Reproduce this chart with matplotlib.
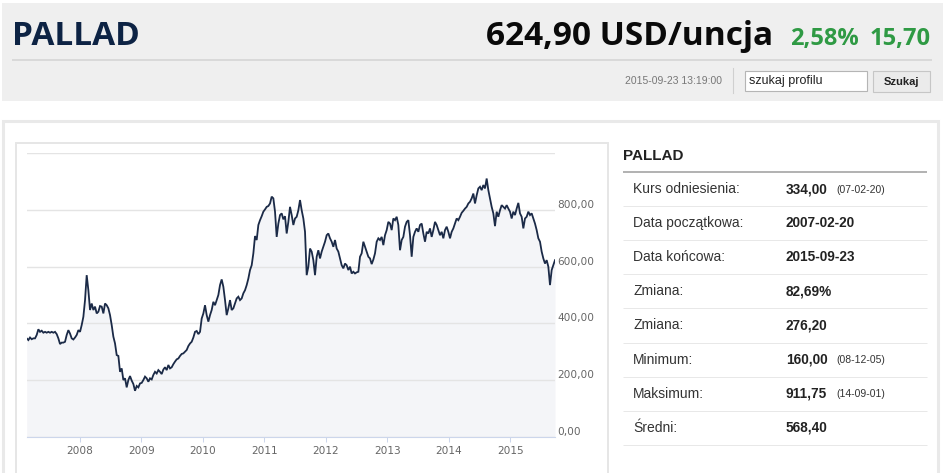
import matplotlib
matplotlib.use("Agg")
import matplotlib.pyplot as plt
import matplotlib.dates as mdates
from matplotlib.patches import Rectangle
import pandas as pd

# ---------------- data ----------------
start_date = "2007-02-20"
end_date = "2015-09-23"
price = [
    347, 341, 350, 344, 347, 347, 359, 379, 370, 374,
    367, 370, 367, 370, 367, 370, 367, 370, 362, 347,
    327, 332, 332, 335, 359, 376, 364, 347, 343, 350,
    359, 376, 370, 394, 423, 482, 570, 517, 447, 470,
    447, 459, 435, 441, 461, 459, 435, 470, 464, 453,
    429, 394, 353, 329, 288, 285, 229, 241, 200, 206,
    174, 200, 214, 198, 186, 162, 179, 174, 188, 190,
    200, 212, 206, 194, 206, 202, 218, 229, 223, 235,
    229, 221, 237, 245, 235, 253, 241, 245, 256, 265,
    273, 276, 285, 292, 294, 300, 306, 320, 329, 335,
    350, 370, 373, 362, 370, 417, 435, 464, 429, 406,
    429, 447, 476, 464, 482, 500, 535, 555, 529, 482,
    429, 453, 482, 447, 453, 470, 488, 494, 482, 488,
    506, 517, 535, 558, 588, 605, 647, 708, 694, 747,
    764, 778, 794, 802, 811, 814, 823, 847, 841, 794,
    705, 752, 782, 788, 767, 778, 717, 758, 811, 782,
    747, 770, 776, 799, 835, 799, 770, 723, 570, 600,
    664, 653, 623, 570, 635, 658, 629, 653, 670, 688,
    711, 717, 700, 688, 670, 694, 664, 653, 629, 605,
    594, 611, 605, 588, 600, 576, 582, 576, 580, 582,
    635, 647, 688, 670, 653, 635, 629, 609, 625, 647,
    688, 700, 694, 705, 676, 711, 729, 758, 752, 729,
    770, 764, 776, 747, 658, 694, 705, 741, 758, 764,
    711, 635, 705, 723, 735, 723, 747, 752, 717, 688,
    723, 717, 735, 705, 729, 758, 747, 729, 711, 723,
    700, 729, 741, 723, 700, 723, 735, 752, 770, 764,
    776, 790, 797, 805, 811, 823, 829, 841, 858, 823,
    852, 876, 882, 870, 888, 876, 911, 870, 841, 811,
    788, 743, 794, 776, 799, 817, 811, 805, 817, 805,
    794, 770, 794, 782, 805, 825, 788, 776, 735, 770,
    776, 794, 782, 788, 770, 752, 729, 700, 688, 653,
    629, 611, 623, 600, 535, 588, 605, 623,
]
y_ticks = [0, 200, 400, 600, 800, 1000]
y_tick_labels = ["0,00", "200,00", "400,00", "600,00", "800,00", ""]

title = "PALLAD"
quote = "624,90 USD/uncja"
change_pct = "2,58%"
change_abs = "15,70"
timestamp = "2015-09-23 13:19:00"

table_labels = ["Kurs odniesienia:", "Data początkowa:", "Data końcowa:", "Zmiana:",
                "Zmiana:", "Minimum:", "Maksimum:", "Średni:"]
table_values = ["334,00", "2007-02-20", "2015-09-23", "82,69%",
                "276,20", "160,00", "911,75", "568,40"]
table_notes = ["(07-02-20)", "", "", "", "", "(08-12-05)", "(14-09-01)", ""]

# ---------------- figure ----------------
W, H = 945, 473
fig = plt.figure(figsize=(W / 100, H / 100), dpi=100)
fig.patch.set_facecolor("white")

bg = fig.add_axes([0, 0, 1, 1], zorder=0)
bg.set_xlim(0, W)
bg.set_ylim(H, 0)
bg.axis("off")


def rect(x0, y0, x1, y1, fc, ec="none", lw=0.0, z=1):
    bg.add_patch(Rectangle((x0, y0), x1 - x0, y1 - y0, facecolor=fc,
                           edgecolor=ec, linewidth=lw, zorder=z))


def hline(y, x0, x1, color, lw_px, z=2):
    bg.plot([x0, x1], [y, y], color=color, lw=lw_px * 0.72,
            solid_capstyle="butt", zorder=z)


HEAD = ["Open Sans", "DejaVu Sans"]
ARIAL = ["Liberation Sans", "DejaVu Sans"]

# header bar
rect(2, 3, 943, 101, "#efefef")
hline(60, 12, 932, "#d9d9d9", 2)
bg.text(12, 45, title, fontsize=24, fontweight="bold", family=HEAD,
        color="#0d2344", ha="left", va="baseline", zorder=3)
bg.text(773, 45, quote, fontsize=24, fontweight="bold", family=HEAD,
        color="#0a0a0a", ha="right", va="baseline", zorder=3)
bg.text(790, 45, change_pct, fontsize=17, fontweight="bold", family=HEAD,
        color="#2f9a44", ha="left", va="baseline", zorder=3)
bg.text(931, 45, change_abs, fontsize=17, fontweight="bold", family=HEAD,
        color="#2f9a44", ha="right", va="baseline", zorder=3)

bg.text(722, 81, timestamp, fontsize=7.5, family=ARIAL, color="#777777",
        ha="right", va="center", zorder=3)
bg.plot([733, 733], [68, 93], color="#d0d0d0", lw=0.8, zorder=2)
rect(745, 71, 867, 91, "white", ec="#b5b5b5", lw=0.8, z=2)
bg.text(749, 81, "szukaj profilu", fontsize=9, family=ARIAL, color="#222222",
        ha="left", va="center", zorder=3)
rect(873, 71, 930, 92, "#ebebeb", ec="#c6c6c6", lw=0.8, z=2)
bg.text(901.5, 82, "Szukaj", fontsize=8, fontweight="bold", family=ARIAL,
        color="#222222", ha="center", va="center", zorder=3)

# main panel and chart container
rect(3, 121, 938, 520, "white", ec="#e9e9e9", lw=2.2, z=1)
rect(16, 143, 608, 520, "white", ec="#e6e6e6", lw=1.4, z=1.5)

# side table
bg.text(623, 156, title, fontsize=11, fontweight="bold", family=ARIAL,
        color="#222222", ha="left", va="center", zorder=3)
hline(172, 623, 927, "#9a9a9a", 1.5)
row_top, row_h = 172, 34.1
for i, (lab, val, note) in enumerate(zip(table_labels, table_values, table_notes)):
    yc = row_top + row_h * (i + 0.5)
    bg.text(633, yc, lab, fontsize=10, family=ARIAL, color="#333333",
            ha="left", va="center", zorder=3)
    bg.text(786, yc, val, fontsize=9.8, fontweight="bold", family=ARIAL,
            color="#222222", ha="left", va="center", zorder=3)
    if note:
        bg.text(836, yc + 0.5, note, fontsize=7.5, family=ARIAL, color="#333333",
                ha="left", va="center", zorder=3)
    hline(row_top + row_h * (i + 1), 623, 927, "#e8e8e8", 1)

# ---------------- chart ----------------
dates = pd.date_range(start_date, end_date, periods=len(price))
x0, x1, ytop, ybot = 26.7, 555.0, 153.3, 436.7
ax = fig.add_axes([x0 / W, 1 - ybot / H, (x1 - x0) / W, (ybot - ytop) / H], zorder=2)
ax.set_facecolor("none")
ax.fill_between(dates, price, 0, color="#f4f5f8", lw=0, zorder=1)
ax.plot(dates, price, color="#1b2a47", lw=1.3, zorder=3, solid_joinstyle="miter")
ax.set_xlim(dates[0], dates[-1])
ax.set_ylim(0, 1000)
ax.set_axisbelow(False)

for s in ("left", "right", "top"):
    ax.spines[s].set_visible(False)
ax.spines["bottom"].set_color("#ccd6eb")
ax.spines["bottom"].set_linewidth(0.8)
ax.spines["bottom"].set_zorder(2.6)

ax.yaxis.tick_right()
ax.set_yticks(y_ticks)
ax.set_yticklabels(y_tick_labels)
ax.tick_params(axis="y", length=0, pad=1.5, labelsize=7.6, labelcolor="#666666")
ax.grid(axis="y", color="#e4e4e4", lw=1.0)
for lbl in ax.get_yticklabels():
    lbl.set_verticalalignment("bottom")

ax.xaxis.set_major_locator(mdates.YearLocator())
ax.xaxis.set_major_formatter(mdates.DateFormatter("%Y"))
ax.tick_params(axis="x", length=3.6, width=0.75, color="#ccd6eb", pad=3,
               labelsize=7.6, labelcolor="#666666")

fig.savefig("out.png", dpi=100, facecolor="white")
